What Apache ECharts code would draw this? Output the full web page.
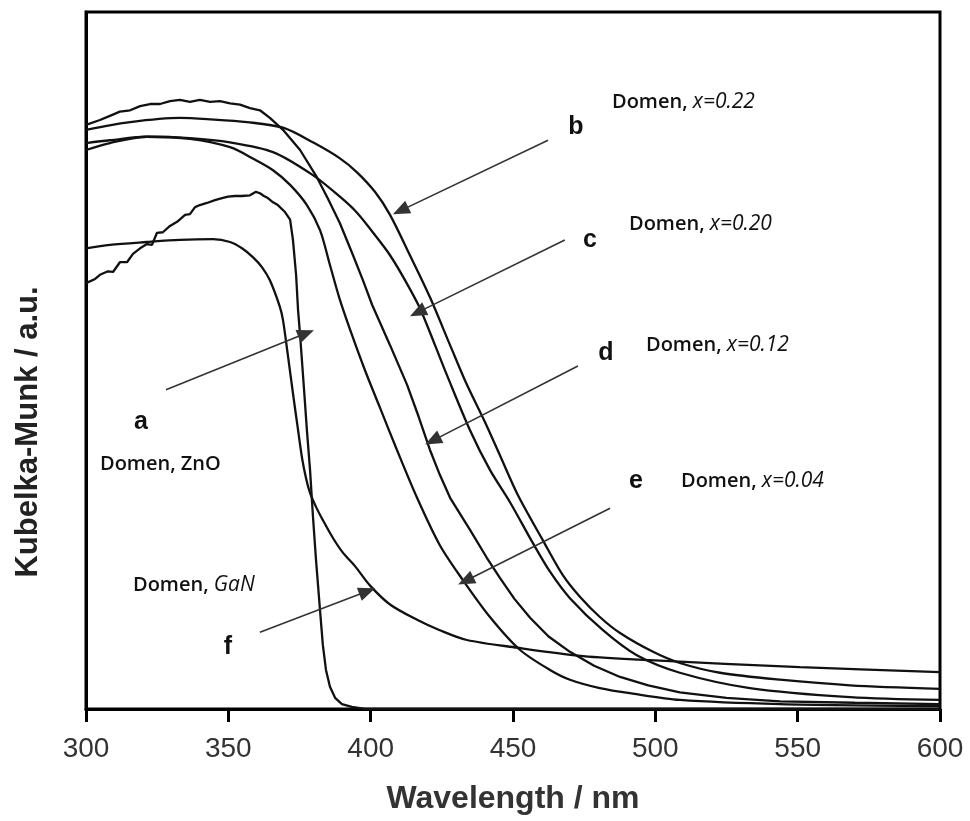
<!DOCTYPE html>
<html>
<head>
<meta charset="utf-8">
<script src="https://cdn.jsdelivr.net/npm/echarts@6/dist/echarts.min.js"></script>
<style>
  html, body { margin: 0; padding: 0; background: #fff; }
  #chart { width: 970px; height: 821px; }
</style>
</head>
<body>
<div id="chart"></div>
<script>
// curves: [wavelength nm, Kubelka-Munk a.u.]
var curveA = [[300.0,0.611],[303.2,0.617],[304.9,0.623],[307.7,0.628],[309.5,0.627],[311.9,0.641],[314.4,0.641],[316.5,0.653],[319.0,0.661],[321.4,0.667],[323.2,0.666],[324.9,0.683],[327.0,0.684],[329.5,0.693],[332.0,0.699],[334.8,0.709],[336.5,0.710],[338.3,0.720],[340.0,0.723],[342.5,0.726],[345.3,0.730],[347.8,0.733],[349.9,0.735],[352.3,0.736],[354.8,0.736],[357.6,0.737],[359.7,0.742],[361.1,0.740],[362.5,0.736],[363.9,0.733],[365.7,0.727],[367.4,0.723],[369.9,0.713],[371.7,0.702],[372.7,0.673],[373.8,0.623],[374.5,0.572],[375.2,0.537],[376.6,0.458],[377.6,0.400],[378.7,0.343],[379.7,0.278],[380.8,0.214],[382.2,0.142],[383.2,0.092],[384.3,0.056],[385.7,0.032],[387.5,0.016],[389.9,0.007],[393.4,0.003],[398.0,0],[600,0]];
var curveB = [[300.0,0.831],[315.5,0.842],[333.0,0.848],[343.6,0.846],[356.6,0.842],[369.2,0.834],[379.7,0.813],[389.2,0.790],[395.2,0.770],[401.5,0.742],[406.8,0.709],[413.8,0.651],[420.8,0.591],[427.9,0.522],[433.5,0.468],[440.1,0.412],[445.4,0.364],[451.7,0.307],[460.5,0.242],[467.5,0.192],[473.5,0.161],[480.5,0.132],[487.6,0.109],[499.2,0.082],[508.6,0.066],[522.7,0.052],[543.8,0.042],[568.4,0.034],[600.0,0.029]];
var curveC = [[300.0,0.802],[308.4,0.812],[321.4,0.821],[336.5,0.819],[350.6,0.813],[365.7,0.799],[379.7,0.766],[389.2,0.735],[395.2,0.712],[401.5,0.680],[406.8,0.651],[412.1,0.615],[417.3,0.575],[422.6,0.522],[426.8,0.479],[434.9,0.400],[441.9,0.343],[448.9,0.297],[457.0,0.238],[463.0,0.197],[470.0,0.159],[481.6,0.113],[493.5,0.077],[508.6,0.052],[533.2,0.030],[568.4,0.017],[600.0,0.013]];
var curveD = [[300.0,0.838],[304.9,0.845],[308.4,0.851],[311.9,0.857],[315.5,0.859],[319.0,0.865],[322.5,0.868],[326.0,0.868],[329.5,0.872],[333.0,0.874],[336.5,0.871],[340.0,0.874],[343.6,0.871],[347.1,0.872],[350.6,0.869],[354.1,0.867],[357.6,0.862],[361.1,0.859],[364.6,0.848],[369.2,0.831],[375.2,0.802],[381.1,0.763],[385.0,0.732],[389.2,0.697],[393.8,0.651],[397.3,0.615],[400.5,0.580],[406.8,0.522],[412.8,0.465],[416.8,0.420],[420.8,0.372],[424.3,0.336],[427.9,0.303],[434.9,0.257],[440.8,0.217],[445.4,0.188],[450.5,0.158],[456.0,0.131],[462.5,0.104],[470.0,0.082],[478.5,0.062],[487.6,0.046],[497.5,0.034],[508.6,0.024],[525.0,0.016],[543.8,0.011],[570.0,0.009],[600.0,0.007]];
var curveE = [[300.0,0.812],[308.4,0.816],[321.4,0.821],[336.5,0.818],[350.6,0.806],[359.4,0.788],[365.7,0.773],[371.7,0.752],[377.6,0.723],[382.2,0.687],[385.7,0.637],[389.2,0.587],[393.4,0.537],[398.0,0.486],[403.3,0.432],[409.2,0.372],[416.3,0.303],[424.3,0.235],[432.4,0.185],[441.9,0.132],[452.4,0.085],[463.0,0.056],[470.0,0.042],[480.5,0.030],[492.1,0.022],[508.6,0.013],[543.8,0.007],[600.0,0.004]];
var curveF = [[300.0,0.661],[308.4,0.666],[321.4,0.670],[333.0,0.673],[344.6,0.674],[350.6,0.670],[354.8,0.661],[358.7,0.648],[361.8,0.634],[364.6,0.615],[368.1,0.577],[369.2,0.558],[370.9,0.508],[372.7,0.453],[374.5,0.400],[375.9,0.360],[377.3,0.331],[378.7,0.310],[380.8,0.290],[383.2,0.271],[386.8,0.245],[390.3,0.224],[394.5,0.205],[399.8,0.177],[406.8,0.150],[416.3,0.128],[424.3,0.113],[433.8,0.099],[451.4,0.088],[474.6,0.076],[498.1,0.070],[550.8,0.060],[600.0,0.053]];

var seriesNames = ['a', 'b', 'c', 'd', 'e', 'f'];
var seriesData = [curveA, curveB, curveC, curveD, curveE, curveF];
var smoothed = [false, true, true, false, true, true];

// arrows: [tail, head] in data coords
var arrows = [
    [[462.3, 0.816], [410.5, 0.715]],
    [[468.2, 0.673], [416.5, 0.569]],
    [[472.8, 0.492], [421.8, 0.385]],
    [[484.1, 0.288], [433.4, 0.184]],
    [[328.1, 0.458], [377.3, 0.539]],
    [[361.1, 0.110], [398.8, 0.169]]
];

var myChart = echarts.init(document.getElementById('chart'));

var series = seriesNames.map(function (n, i) {
    return {
        name: n,
        type: 'line',
        data: seriesData[i],
        showSymbol: false,
        smooth: smoothed[i] ? 0.3 : false,
        lineStyle: { color: '#111', width: 2.3 },
        silent: true
    };
});
series[0].markLine = {
    silent: true,
    symbol: ['none', 'path://M6,0L12,16L0,16Z'],
    symbolSize: [14, 17],
    label: { show: false },
    itemStyle: { color: '#111' },
    lineStyle: { color: '#333', width: 1.6, type: 'solid' },
    data: arrows.map(function (a) {
        return [{ coord: a[0] }, { coord: a[1] }];
    })
};

var letterStyle = { fill: '#111', fontFamily: 'Liberation Sans, Arial', fontWeight: 'bold', fontSize: 25 };
function letter(t, x, y) {
    return { type: 'text', x: x, y: y, style: Object.assign({ text: t, textAlign: 'center', textVerticalAlign: 'middle' }, letterStyle) };
}
function domen(t, x, y) {
    return {
        type: 'text', x: x, y: y,
        style: {
            text: t, fill: '#111', textVerticalAlign: 'middle',
            fontFamily: 'Open Sans', fontWeight: 600, fontSize: 20,
            rich: { i: { fontFamily: 'Open Sans', fontStyle: 'italic', fontWeight: 400, fontSize: 21, fill: '#111' } }
        }
    };
}

var option = {
    animation: false,
    backgroundColor: '#fff',
    grid: { left: 86, right: 30, top: 12, bottom: 112, show: true, borderColor: '#000', borderWidth: 3 },
    xAxis: {
        type: 'value', min: 300, max: 600, interval: 50,
        name: 'Wavelength / nm', nameLocation: 'middle', nameGap: 74,
        nameTextStyle: { fontFamily: 'Liberation Sans, Arial', fontWeight: 'bold', fontSize: 32, color: '#333' },
        axisLine: { show: true, lineStyle: { color: '#000', width: 3 } },
        axisTick: { show: true, inside: false, length: 13, lineStyle: { color: '#000', width: 3 } },
        axisLabel: { margin: 26, fontFamily: 'Liberation Sans, Arial', fontSize: 28, color: '#333' },
        splitLine: { show: false }
    },
    yAxis: {
        type: 'value', min: 0, max: 1,
        axisLine: { show: true, lineStyle: { color: '#000', width: 3 } },
        axisTick: { show: false },
        axisLabel: { show: false },
        splitLine: { show: false }
    },
    graphic: [
        {
            type: 'text', x: 28, y: 432, rotation: Math.PI / 2,
            style: { text: 'Kubelka-Munk / a.u.', textAlign: 'center', textVerticalAlign: 'middle', fill: '#222',
                fontFamily: 'Liberation Sans, Arial', fontWeight: 'bold', fontSize: 31 }
        },
        letter('b', 576, 127),
        letter('c', 590, 240),
        letter('d', 606, 353),
        letter('e', 636, 481),
        letter('a', 141, 422),
        letter('f', 228, 647),
        domen('Domen, {i|x=0.22}', 612, 102),
        domen('Domen, {i|x=0.20}', 629, 224),
        domen('Domen, {i|x=0.12}', 646, 345),
        domen('Domen, {i|x=0.04}', 681, 481),
        domen('Domen, ZnO', 100, 464),
        domen('Domen, {i|GaN}', 133, 585)
    ],
    series: series
};
myChart.setOption(option);
</script>
</body>
</html>
